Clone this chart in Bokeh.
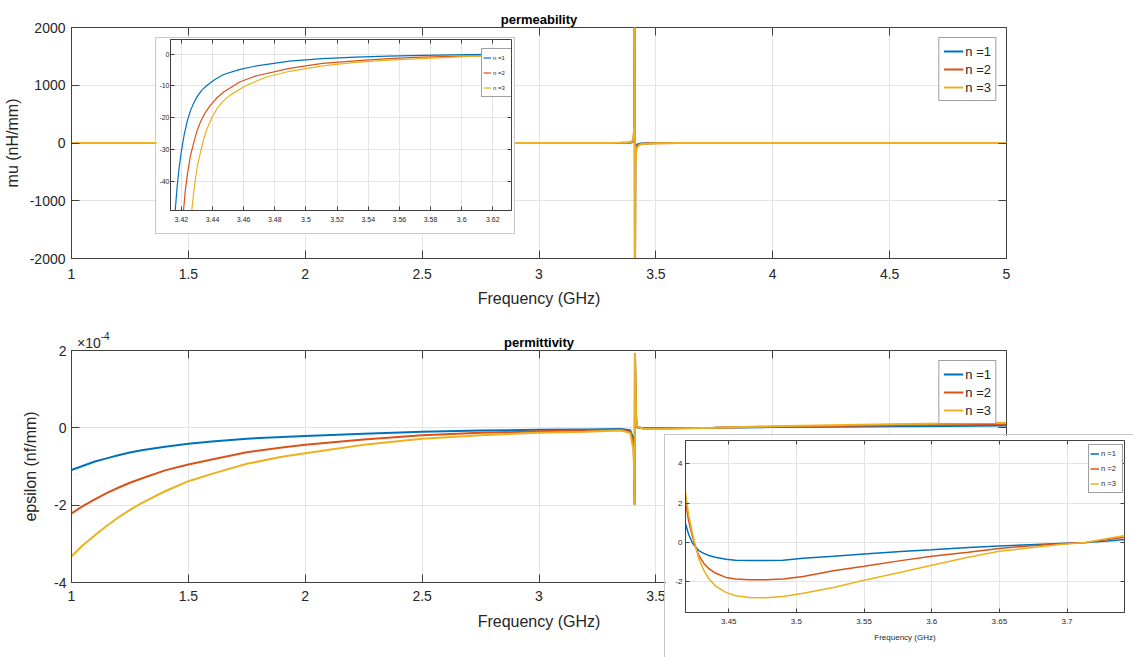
from bokeh.plotting import figure
from bokeh.models import FixedTicker, LinearAxis, Legend, LegendItem, Range1d, Div
from bokeh.layouts import column
from bokeh.core.properties import value
from bokeh.embed import file_html
from bokeh.resources import INLINE

FONT = "Liberation Sans"
TXT = "#262626"
AX = "#404040"
GRID = "#e4e4e4"
COLORS = ["#0072BD", "#D95319", "#EDB120"]
NAMES = ["n =1", "n =2", "n =3"]

# ---------------- permeability (main) ----------------
mu_freq = [1.0, 1.5, 2.0, 2.5, 3.0, 3.2, 3.3, 3.35, 3.38, 3.395, 3.403, 3.408, 3.4095,
           3.4105, 3.412, 3.416, 3.42, 3.43, 3.45, 3.5, 3.6, 3.8, 4.0, 4.5, 5.0]
mu_n1 = [0, 0, 0, 0, 0, 0.5, 1, 2, 4, 10, 30, 150, 2600,
         -2600, -180, -49, -28, -13, -5.5, -1.5, -0.2, 0, 0, 0, 0]
mu_n2 = [0, 0, 0, 0, 0, 0.8, 1.5, 3, 6, 15, 45, 220, 2600,
         -2600, -300, -90, -55, -22, -10, -3.2, -0.6, 0, 0, 0, 0]
mu_n3 = [0, 0, 0, 0, 0, 1, 2, 4, 8, 20, 60, 300, 2600,
         -2600, -400, -130, -80, -32, -14, -4.5, -0.8, -0.1, 0, 0, 0]
mu_xticks = [1, 1.5, 2, 2.5, 3, 3.5, 4, 4.5, 5]
mu_xtick_labels = ["1", "1.5", "2", "2.5", "3", "3.5", "4", "4.5", "5"]
mu_yticks = [-2000, -1000, 0, 1000, 2000]
mu_ytick_labels = ["-2000", "-1000", "0", "1000", "2000"]

# ---------------- permeability (inset, zoom after resonance) ----------------
mui_f1 = [3.4160, 3.4172, 3.4185, 3.4200, 3.4217, 3.4238, 3.4259, 3.4280, 3.4302, 3.4330, 3.4365,
          3.4415, 3.4471, 3.4577, 3.4683, 3.4894, 3.5106, 3.5317, 3.5529, 3.5741, 3.5950, 3.6164, 3.632]
mui_n1 = [-49.5, -42, -36, -30.5, -25.6, -21, -17.7, -15.3, -13.3, -11.4, -9.8,
          -8.0, -6.4, -4.8, -3.7, -2.2, -1.4, -0.95, -0.63, -0.42, -0.25, -0.1, 0.0]
mui_f2 = [3.4213, 3.4225, 3.4238, 3.4258, 3.4280, 3.4300, 3.4323, 3.4352, 3.4386, 3.4425, 3.4471,
          3.4577, 3.4683, 3.4894, 3.5106, 3.5317, 3.5529, 3.5741, 3.5950, 3.6164, 3.632]
mui_n2 = [-49.5, -43, -38, -32, -27.7, -24.2, -21.3, -18.5, -16.1, -13.9, -11.9,
          -8.7, -6.8, -4.5, -2.9, -2.1, -1.4, -0.95, -0.7, -0.5, -0.1]
mui_f3 = [3.4266, 3.4278, 3.4291, 3.4305, 3.4323, 3.4343, 3.4365, 3.4395, 3.4429, 3.4468, 3.4513,
          3.4619, 3.4746, 3.4894, 3.5106, 3.5317, 3.5529, 3.5741, 3.5950, 3.6164, 3.632]
mui_n3 = [-49.5, -44, -39, -34.5, -30.8, -26.8, -23.4, -20.0, -17.1, -14.8, -12.9,
          -9.8, -7.2, -5.4, -3.7, -2.6, -1.9, -1.4, -0.95, -0.5, -0.2]
mui_xticks = [3.42, 3.44, 3.46, 3.48, 3.5, 3.52, 3.54, 3.56, 3.58, 3.6, 3.62]
mui_xtick_labels = ["3.42", "3.44", "3.46", "3.48", "3.5", "3.52", "3.54", "3.56", "3.58", "3.6", "3.62"]
mui_yticks = [-40, -30, -20, -10, 0]
mui_ytick_labels = ["-40", "-30", "-20", "-10", "0"]

# ---------------- permittivity (main, x 1e-4) ----------------
eps_freq = [1.0, 1.05, 1.1, 1.15, 1.2, 1.25, 1.3, 1.4, 1.5, 1.6, 1.75, 1.9, 2.0, 2.25, 2.5, 2.75,
            3.0, 3.2, 3.35, 3.39, 3.405, 3.4095, 3.4105, 3.415, 3.42, 3.45, 3.5, 3.75, 4.0,
            4.25, 4.5, 4.75, 5.0]
eps_n1 = [-1.09, -0.98, -0.87, -0.79, -0.71, -0.64, -0.58, -0.49, -0.41, -0.355, -0.28, -0.235, -0.21, -0.15,
          -0.10, -0.07, -0.05, -0.04, -0.03, -0.06, -0.30, -1.98, 1.92, 0.20, 0.01, -0.01, -0.01, 0.0, 0.02,
          0.03, 0.04, 0.05, 0.06]
eps_n2 = [-2.21, -2.02, -1.85, -1.69, -1.55, -1.42, -1.31, -1.10, -0.95, -0.82, -0.63, -0.51, -0.44, -0.30,
          -0.19, -0.13, -0.09, -0.07, -0.05, -0.10, -0.45, -1.98, 1.92, 0.30, 0.02, -0.02, -0.02, 0.0, 0.03,
          0.05, 0.07, 0.08, 0.09]
eps_n3 = [-3.32, -3.03, -2.78, -2.54, -2.32, -2.12, -1.95, -1.64, -1.38, -1.19, -0.93, -0.75, -0.66, -0.44,
          -0.28, -0.19, -0.13, -0.10, -0.07, -0.13, -0.60, -1.98, 1.92, 0.40, 0.03, -0.03, -0.03, 0.0, 0.04,
          0.07, 0.09, 0.11, 0.13]
eps_xticks = [1, 1.5, 2, 2.5, 3, 3.5, 4, 4.5, 5]
eps_xtick_labels = ["1", "1.5", "2", "2.5", "3", "3.5", "4", "4.5", "5"]
eps_yticks = [-4, -2, 0, 2]
eps_ytick_labels = ["-4", "-2", "0", "2"]

# ---------------- permittivity (inset) ----------------
epsi_f = [3.418, 3.4203, 3.4229, 3.4253, 3.4278, 3.4315, 3.4353, 3.440, 3.4478, 3.455, 3.4652, 3.4775,
          3.4901, 3.505, 3.5274, 3.55, 3.5771, 3.60, 3.6269, 3.65, 3.6766, 3.695, 3.7139, 3.73, 3.7438]
epsi_n1 = [0.95, 0.42, 0.0, -0.22, -0.41, -0.55, -0.66, -0.75, -0.85, -0.90, -0.92, -0.92,
           -0.90, -0.80, -0.70, -0.59, -0.46, -0.37, -0.26, -0.18, -0.10, -0.05, 0.0, 0.08, 0.15]
epsi_n2 = [2.06, 1.1, 0.36, -0.20, -0.66, -1.05, -1.33, -1.55, -1.77, -1.85, -1.89, -1.89,
           -1.85, -1.72, -1.43, -1.20, -0.92, -0.70, -0.49, -0.30, -0.15, -0.06, 0.0, 0.15, 0.27]
epsi_n3 = [2.57, 1.4, 0.53, -0.18, -0.82, -1.40, -1.84, -2.20, -2.53, -2.70, -2.79, -2.80,
           -2.74, -2.57, -2.28, -1.92, -1.51, -1.15, -0.75, -0.45, -0.24, -0.10, 0.0, 0.2, 0.36]
epsi_xticks = [3.45, 3.5, 3.55, 3.6, 3.65, 3.7]
epsi_xtick_labels = ["3.45", "3.5", "3.55", "3.6", "3.65", "3.7"]
epsi_yticks = [-2, 0, 2, 4]
epsi_ytick_labels = ["-2", "0", "2", "4"]


def style(p, xt, xl, yt, yl, fs, tick, lab_standoff_x, lab_standoff_y, xlabel=None, ylabel=None,
          lab_fs="16px", xlab_standoff=8, ylab_standoff=4):
    p.background_fill_color = "white"
    p.border_fill_color = "white"
    p.outline_line_color = AX
    p.outline_line_width = 1
    p.xgrid.ticker = FixedTicker(ticks=xt)
    p.ygrid.ticker = FixedTicker(ticks=yt)
    p.grid.grid_line_color = GRID
    p.grid.grid_line_width = 1
    xa, ya = p.below[0], p.left[0]
    xa.ticker = FixedTicker(ticks=xt)
    xa.major_label_overrides = dict(zip(xt, xl))
    ya.ticker = FixedTicker(ticks=yt)
    ya.major_label_overrides = dict(zip(yt, yl))
    xa.major_label_standoff = lab_standoff_x
    ya.major_label_standoff = lab_standoff_y
    for ax in (xa, ya):
        ax.major_tick_in = tick
        ax.major_tick_out = 0
        ax.minor_tick_in = 0
        ax.minor_tick_out = 0
        ax.axis_line_color = AX
        ax.major_tick_line_color = AX
        ax.major_label_text_font = FONT
        ax.major_label_text_font_size = fs
        ax.major_label_text_color = TXT
        ax.axis_label_text_font = FONT
        ax.axis_label_text_font_style = "normal"
        ax.axis_label_text_color = TXT
        ax.axis_label_text_font_size = lab_fs
    if xlabel:
        xa.axis_label = xlabel
        xa.axis_label_standoff = xlab_standoff
    if ylabel:
        ya.axis_label = ylabel
        ya.axis_label_standoff = ylab_standoff
    for loc, rng in (("above", xt), ("right", yt)):
        a = LinearAxis(ticker=FixedTicker(ticks=rng),
                       major_label_overrides={t: "" for t in rng},
                       major_tick_in=tick, major_tick_out=0, minor_tick_in=0, minor_tick_out=0,
                       axis_line_color=None, major_tick_line_color=AX, major_label_standoff=0)
        p.add_layout(a, loc)


def add_lines(p, xs_list, ys_list, width):
    rs = []
    for xs, ys, c in zip(xs_list, ys_list, COLORS):
        rs.append(p.line(xs, ys, line_color=c, line_width=width))
    return rs


def add_legend(p, rs, fs, gw, gh, pad, **loc):
    leg = Legend(items=[LegendItem(label=value(n), renderers=[r]) for n, r in zip(NAMES, rs)],
                 label_text_font=FONT, label_text_font_size=fs, label_text_color=TXT,
                 glyph_width=gw, glyph_height=gh, label_height=gh, label_standoff=2,
                 padding=pad, spacing=0, border_line_color=AX, border_line_width=1,
                 background_fill_color="white", background_fill_alpha=1, **loc)
    p.add_layout(leg)


def set_title(p, text):
    p.title.text = text
    p.title.align = "center"
    p.title.text_font = FONT
    p.title.text_font_size = "13px"
    p.title.text_font_style = "bold"
    p.title.text_color = "black"
    p.title.standoff = 1


# ===== top main =====
p1 = figure(width=1133, height=320, x_range=Range1d(1, 5), y_range=Range1d(-2000, 2000),
            output_backend="svg", toolbar_location=None,
            min_border_left=71, min_border_right=127, min_border_top=27, min_border_bottom=62)
set_title(p1, "permeability")
style(p1, mu_xticks, mu_xtick_labels, mu_yticks, mu_ytick_labels, "14px", 8, 10, 6,
      xlabel="Frequency (GHz)", ylabel="mu (nH/mm)", xlab_standoff=8, ylab_standoff=6)
r1 = add_lines(p1, [mu_freq] * 3, [mu_n1, mu_n2, mu_n3], 2)
add_legend(p1, r1, "13px", 20, 18, 4, location="top_right", margin=10)

# ===== bottom main =====
p2 = figure(width=1133, height=337, x_range=Range1d(1, 5), y_range=Range1d(-4, 2),
            output_backend="svg", toolbar_location=None,
            min_border_left=71, min_border_right=127, min_border_top=30, min_border_bottom=75)
set_title(p2, "permittivity")
style(p2, eps_xticks, eps_xtick_labels, eps_yticks, eps_ytick_labels, "14px", 8, 8, 5,
      xlabel="Frequency (GHz)", ylabel="epsilon (nf/mm)", xlab_standoff=9, ylab_standoff=12)
r2 = add_lines(p2, [eps_freq] * 3, [eps_n1, eps_n2, eps_n3], 2)
add_legend(p2, r2, "13px", 20, 18, 4, location="top_right", margin=10)

exponent = Div(text='×10<sup style="font-size:10px;position:relative;top:-2px">-4</sup>',
               width=60, height=20,
               styles={"position": "absolute", "left": "72px", "top": "327px", "z-index": "4",
                       "font-family": FONT, "font-size": "14px", "color": TXT})

# ===== top inset =====
q1 = figure(width=358, height=195, x_range=Range1d(3.413, 3.632), y_range=Range1d(-49.2, 4.6),
            output_backend="svg", toolbar_location=None, frame_align=False,
            min_border_left=12, min_border_right=3, min_border_top=1, min_border_bottom=23,
            styles={"position": "absolute", "left": "156px", "top": "38px", "z-index": "5",
                    "outline": "1px solid #c8c8c8"})
style(q1, mui_xticks, mui_xtick_labels, mui_yticks, mui_ytick_labels, "7px", 4, 6, 1, lab_fs="7px")
rq1 = add_lines(q1, [mui_f1, mui_f2, mui_f3], [mui_n1, mui_n2, mui_n3], 1.2)
add_legend(q1, rq1, "6px", 8, 15, 1, location=(311, 113))

# ===== bottom inset =====
q2 = figure(width=468, height=222, x_range=Range1d(3.418, 3.7425), y_range=Range1d(-3.55, 5.17),
            output_backend="svg", toolbar_location=None, frame_align=False,
            min_border_left=20, min_border_right=9, min_border_top=5, min_border_bottom=45,
            styles={"position": "absolute", "left": "665px", "top": "435px", "z-index": "5",
                    "outline": "1px solid #c8c8c8"})
style(q2, epsi_xticks, epsi_xtick_labels, epsi_yticks, epsi_ytick_labels, "8px", 4, 6, 3,
      xlabel="Frequency (GHz)", lab_fs="8px", xlab_standoff=6)
rq2 = add_lines(q2, [epsi_f] * 3, [epsi_n1, epsi_n2, epsi_n3], 1.5)
add_legend(q2, rq2, "7.5px", 9, 15, 1, location=(403, 119))

layout = column(p1, p2, q1, q2, exponent)
open("out.html", "w").write(file_html(layout, INLINE))
